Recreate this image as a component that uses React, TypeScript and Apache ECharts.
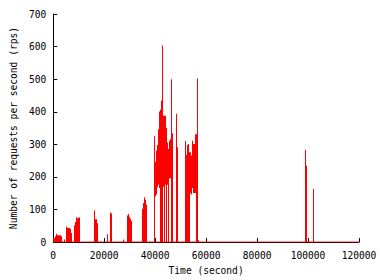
import React, { useEffect, useRef } from "react";
import * as echarts from "echarts";

// Time (s) of each plotted sample, with the low and high value reached there (rps)
const sampleTimes = [
  0, 386, 772, 1158, 1544, 1930, 2316, 2702, 3088, 4246,
  5018, 5404, 5790, 6176, 6562, 6948,
  8106, 8492, 8878, 9264, 9650, 10036,
  15826, 16212, 16598, 16984,
  21230, 22388, 22774, 27406,
  28950, 29336, 29722, 30108, 30494,
  34740, 35126, 35512, 35898, 36284,
  39372, 39758, 40144, 40530, 40916, 41302, 41688, 42074, 42460, 42846,
  43232, 43618, 44004, 44390, 44776, 45162, 45548, 45934, 46320, 46706,
  48250, 48636,
  51724, 52110, 52496, 52882, 53268, 53654, 54040, 54426, 54812, 55198,
  55584, 55970, 56356, 56742,
  98816, 99202, 101904,
];
const sampleLows = [
  0, 0, 0, 0, 0, 0, 0, 0, 0, 0,
  0, 0, 0, 0, 0, 0,
  0, 0, 0, 0, 0, 0,
  0, 0, 0, 0,
  0, 0, 0, 0,
  0, 0, 0, 0, 0,
  0, 0, 0, 0, 0,
  0, 141, 146, 176, 168, 176, 166, 0, 0, 0,
  170, 0, 176, 0, 176, 0, 196, 196, 0, 0,
  0, 0,
  0, 0, 0, 0, 0, 150, 146, 166, 151, 151,
  151, 0, 0, 0,
  0, 0, 0,
];
const sampleHighs = [
  12, 12, 18, 26, 21, 21, 21, 21, 18, 8,
  48, 43, 43, 43, 40, 28,
  52, 62, 76, 73, 74, 76,
  98, 70, 70, 58,
  24, 91, 88, 8,
  82, 86, 78, 72, 65,
  102, 120, 138, 130, 115,
  325, 246, 281, 296, 298, 346, 401, 406, 434, 603,
  388, 388, 388, 351, 306, 286, 311, 316, 500, 334,
  394, 291,
  310, 268, 298, 301, 276, 276, 266, 311, 301, 301,
  331, 331, 502, 6,
  283, 235, 163,
];
// zero line drawn by the data across the whole run
const baselineTimes = [0, 120000];
const baselineValues = [0, 0];

const X_MIN = 0;
const X_MAX = 120000;
const X_STEP = 20000;
const Y_MIN = 0;
const Y_MAX = 700;
const Y_STEP = 100;

const FONT = "'DejaVu Sans Mono', 'Liberation Mono', monospace";

export default function App() {
  const ref = useRef<HTMLDivElement>(null);
  useEffect(() => {
    if (!ref.current) return;
    const chart = echarts.init(ref.current, null, { renderer: "svg" });
    const samples = sampleTimes.map((t, i) => [t, sampleLows[i], sampleHighs[i]]);
    const baseline = baselineTimes.map((t, i) => [t, baselineValues[i]]);
    chart.setOption({
      animation: false,
      backgroundColor: "#ffffff",
      grid: { left: 48, right: 21, top: 14, bottom: 37, containLabel: false },
      xAxis: {
        type: "value",
        min: X_MIN,
        max: X_MAX,
        interval: X_STEP,
        name: "Time (second)",
        nameLocation: "middle",
        nameGap: 15,
        nameTextStyle: { color: "#000", fontFamily: FONT, fontSize: 9.6 },
        axisLine: { show: true, lineStyle: { color: "#000", width: 1 } },
        axisTick: { show: true, inside: true, length: 4, lineStyle: { color: "#000" } },
        axisLabel: {
          color: "#000",
          fontFamily: FONT,
          fontSize: 9.6,
          margin: 8,
          formatter: (v: number) => String(v),
        },
        splitLine: { show: false },
      },
      yAxis: {
        type: "value",
        min: Y_MIN,
        max: Y_MAX,
        interval: Y_STEP,
        name: "Number of requests per second (rps)",
        nameLocation: "middle",
        nameRotate: 90,
        nameGap: 30,
        nameTextStyle: { color: "#000", fontFamily: FONT, fontSize: 9.6 },
        axisLine: { show: true, lineStyle: { color: "#000", width: 1 } },
        axisTick: { show: true, inside: true, length: 4, lineStyle: { color: "#000" } },
        axisLabel: {
          color: "#000",
          fontFamily: FONT,
          fontSize: 9.6,
          margin: 7,
          formatter: (v: number) => String(v),
        },
        splitLine: { show: false },
      },
      series: [
        {
          type: "line",
          data: baseline,
          symbol: "none",
          lineStyle: { color: "#ff0000", width: 1 },
          z: 3,
        },
        {
          type: "custom",
          data: samples,
          encode: { x: 0, y: [1, 2] },
          renderItem: (params: any, api: any) => {
            const t = api.value(0);
            const lo = api.value(1);
            const hi = api.value(2);
            const top = api.coord([t, hi]);
            const bot = api.coord([t, lo]);
            const x = Math.round(top[0]);
            return {
              type: "rect",
              shape: { x: x, y: top[1], width: 1, height: Math.max(bot[1] - top[1], 1) },
              style: { fill: "#ff0000" },
            };
          },
          z: 4,
        },
      ],
    });
    return () => chart.dispose();
  }, []);
  return (
    <div
      ref={ref}
      style={{ position: "fixed", left: 0, top: 0, width: 380, height: 280, background: "#fff" }}
    />
  );
}
